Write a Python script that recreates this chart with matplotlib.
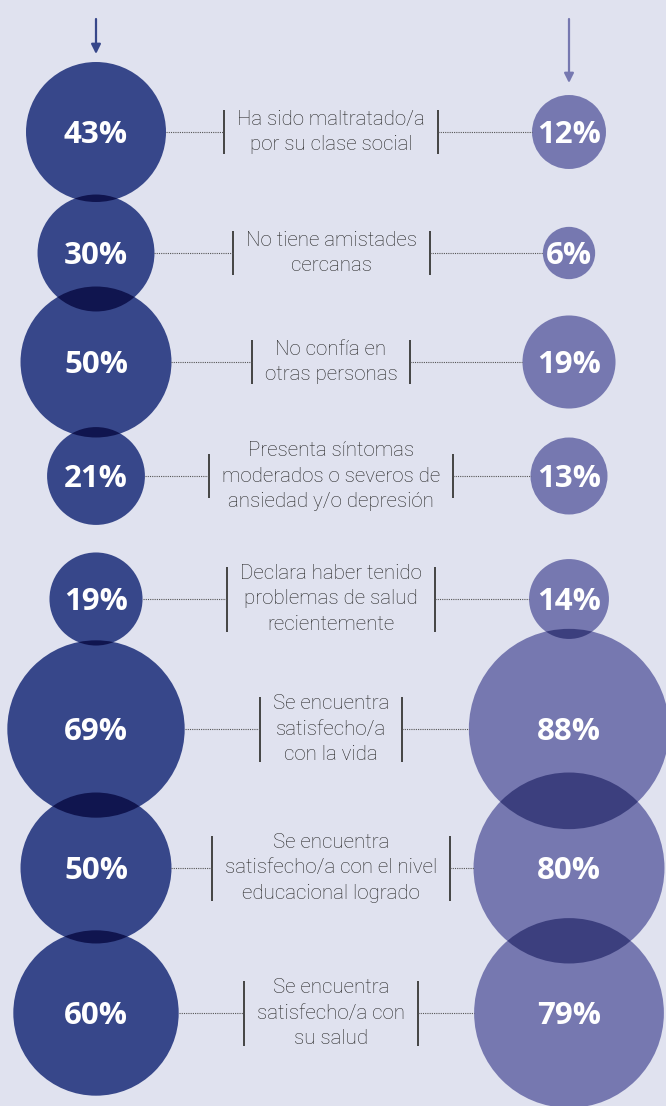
import numpy as np
import matplotlib
matplotlib.use('Agg')
import matplotlib.pyplot as plt
from matplotlib.patches import Circle

# ============================================================
# 数据
# ============================================================
labels = [
    'Ha sido maltratado/a\npor su clase social',
    'No tiene amistades\ncercanas',
    'No confía en\notras personas',
    'Presenta síntomas\nmoderados o severos de\nansiedad y/o depresión',
    'Declara haber tenido\nproblemas de salud\nrecientemente',
    'Se encuentra\nsatisfecho/a\ncon la vida',
    'Se encuentra\nsatisfecho/a con el nivel\neducacional logrado',
    'Se encuentra\nsatisfecho/a con\nsu salud',
]
left_vals = [43, 30, 50, 21, 19, 69, 50, 60]
right_vals = [12, 6, 19, 13, 14, 88, 80, 79]

# 布局（像素坐标）
row_y = [132, 253, 362, 476, 599, 729, 868, 1013]
bracket_h = [44, 44, 44, 44, 65, 65, 65, 65]
LX, RX, CX = 96, 569, 331
K = 10.675  # 半径 = K * sqrt(百分比)，面积与数值成正比

BG = '#E0E2EF'
LEFT = '#37478A'
LEFT_DARK = '#10154F'
RIGHT = '#7678B0'
RIGHT_DARK = '#3C3F7E'
TXT = '#262626'

fig = plt.figure(figsize=(6.66, 11.06), dpi=100)
fig.patch.set_facecolor(BG)
ax = fig.add_axes([0, 0, 1, 1])
ax.set_xlim(0, 666)
ax.set_ylim(1106, 0)
ax.axis('off')


def draw_column(cx, vals, color, dark):
    circles = []
    for v, y in zip(vals, row_y):
        c = Circle((cx, y), K * np.sqrt(v), facecolor=color, lw=0, zorder=1)
        ax.add_patch(c)
        circles.append(c)
    # 相邻圆重叠部分加深（模拟正片叠底）
    for i in range(len(vals) - 1):
        ov = Circle((cx, row_y[i + 1]), K * np.sqrt(vals[i + 1]),
                    facecolor=dark, lw=0, zorder=2)
        ax.add_patch(ov)
        ov.set_clip_path(circles[i])


draw_column(LX, left_vals, LEFT, LEFT_DARK)
draw_column(RX, right_vals, RIGHT, RIGHT_DARK)

# 中间说明文字
texts = []
for lab, y in zip(labels, row_y):
    t = ax.text(CX, y, lab, ha='center', va='center', fontsize=14.8,
                family='Roboto', weight='light', color=TXT,
                linespacing=1.45, zorder=4)
    texts.append(t)

fig.canvas.draw()
renderer = fig.canvas.get_renderer()
inv = ax.transData.inverted()
pad = 13
for t, y, h, lv, rv in zip(texts, row_y, bracket_h, left_vals, right_vals):
    bb = t.get_window_extent(renderer)
    x0 = inv.transform((bb.x0, 0))[0] - pad
    x1 = inv.transform((bb.x1, 0))[0] + pad
    for xb in (x0, x1):
        ax.plot([xb, xb], [y - h / 2, y + h / 2], color='#444444', lw=1.4,
                solid_capstyle='butt', zorder=3)
    ax.plot([LX + K * np.sqrt(lv), x0], [y, y], color='#555555', lw=0.8,
            ls=(0, (1, 1)), zorder=3)
    ax.plot([x1, RX - K * np.sqrt(rv)], [y, y], color='#555555', lw=0.8,
            ls=(0, (1, 1)), zorder=3)

# 百分比数字
for vals, cx in ((left_vals, LX), (right_vals, RX)):
    for v, y in zip(vals, row_y):
        ax.text(cx, y + 11, f'{v}%', ha='center', va='baseline', color='white',
                fontsize=22.5, weight='bold', family='Open Sans', zorder=5)

# 顶部箭头
ax.annotate('', xy=(LX, 54), xytext=(LX, 19),
            arrowprops=dict(arrowstyle='-|>', color=LEFT, lw=1.6,
                            mutation_scale=14, shrinkA=0, shrinkB=0))
ax.annotate('', xy=(RX, 83), xytext=(RX, 19),
            arrowprops=dict(arrowstyle='-|>', color=RIGHT, lw=1.6,
                            mutation_scale=14, shrinkA=0, shrinkB=0))

fig.savefig('out.png', dpi=100, facecolor=BG)
plt.close(fig)
